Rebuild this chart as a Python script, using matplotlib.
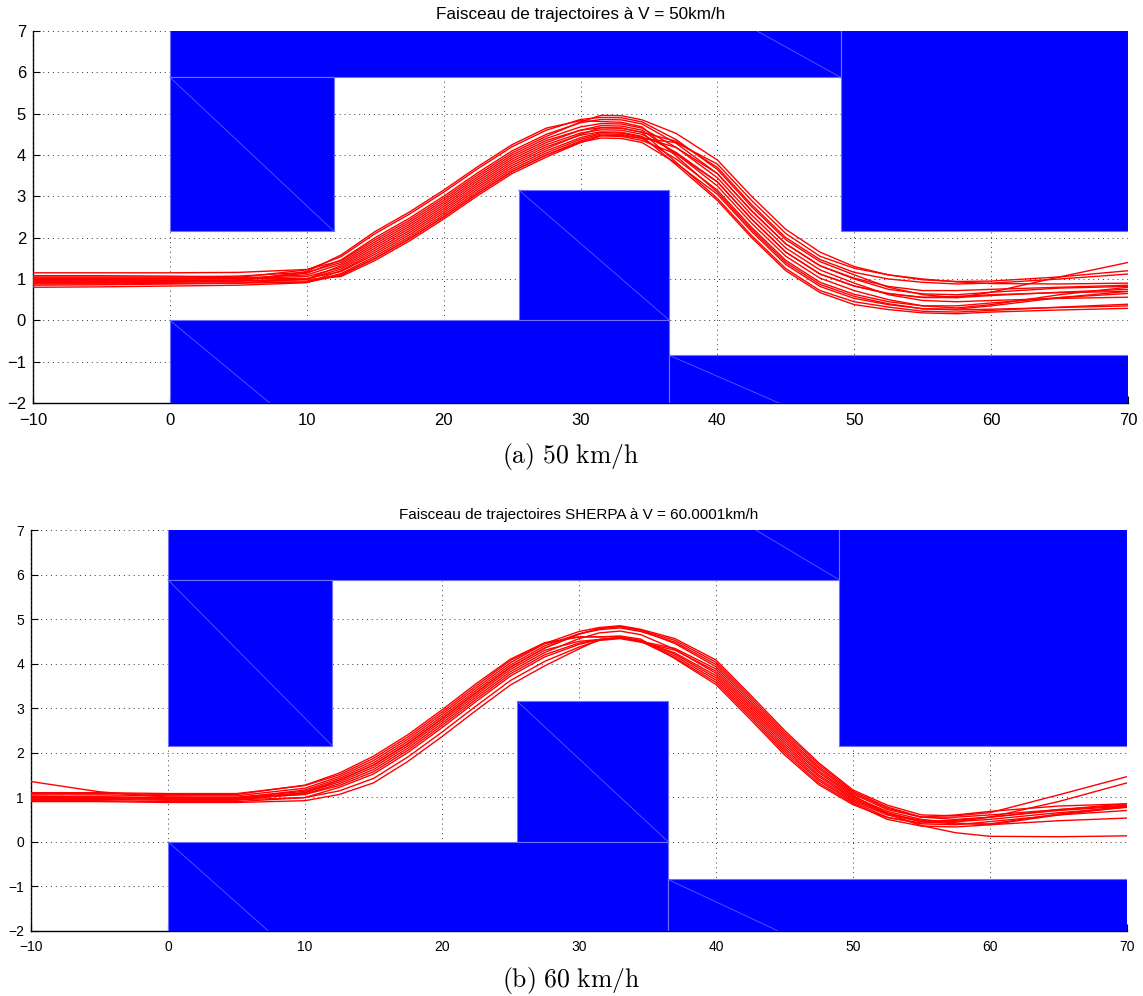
import matplotlib
matplotlib.use("Agg")
import matplotlib.pyplot as plt
from matplotlib.patches import Rectangle

plt.rcParams['font.family'] = ['Liberation Sans', 'DejaVu Sans']
plt.rcParams['mathtext.fontset'] = 'cm'

# ---------------- data ----------------
X = [-10, -5, 0, 5, 10, 12.5, 15, 17.5, 20, 22.5, 25, 27.5, 30, 31.5, 33, 34.5,
     37, 40, 42.5, 45, 47.5, 50, 52.5, 55, 57.5, 60, 65, 70]

traj_50 = [
    [1.15, 1.15, 1.15, 1.16, 1.23, 1.44, 1.95, 2.42, 2.95, 3.52, 4.05, 4.45, 4.8, 4.96, 4.95, 4.85, 4.52, 3.88, 3.0, 2.2, 1.65, 1.3, 1.1, 0.98, 0.94, 0.95, 1.05, 1.2],
    [1.02, 1.02, 1.02, 1.04, 1.22, 1.54, 2.1, 2.57, 3.1, 3.67, 4.2, 4.6, 4.86, 4.91, 4.9, 4.8, 4.37, 3.65, 2.75, 1.95, 1.42, 1.1, 0.8, 0.62, 0.55, 0.68, 1.05, 1.4],
    [0.95, 0.95, 0.96, 0.98, 1.14, 1.46, 2.0, 2.47, 3.0, 3.57, 4.1, 4.5, 4.78, 4.86, 4.85, 4.75, 4.28, 3.55, 2.65, 1.85, 1.32, 1.0, 0.75, 0.64, 0.62, 0.68, 0.78, 0.82],
    [0.9, 0.9, 0.92, 0.95, 1.18, 1.58, 2.15, 2.62, 3.15, 3.72, 4.25, 4.65, 4.83, 4.81, 4.79, 4.68, 3.97, 3.1, 2.2, 1.4, 0.87, 0.58, 0.4, 0.28, 0.27, 0.35, 0.55, 0.7],
    [1.05, 1.05, 1.05, 1.07, 1.16, 1.4, 1.9, 2.37, 2.9, 3.47, 4.0, 4.4, 4.68, 4.76, 4.75, 4.65, 4.18, 3.45, 2.55, 1.75, 1.22, 0.9, 0.62, 0.48, 0.45, 0.48, 0.53, 0.56],
    [0.85, 0.86, 0.88, 0.9, 1.0, 1.32, 1.8, 2.27, 2.8, 3.37, 3.9, 4.3, 4.6, 4.71, 4.7, 4.6, 4.03, 3.25, 2.35, 1.55, 1.02, 0.72, 0.5, 0.35, 0.3, 0.38, 0.62, 0.8],
    [0.8, 0.81, 0.83, 0.85, 0.91, 1.2, 1.65, 2.12, 2.65, 3.22, 3.75, 4.15, 4.5, 4.66, 4.65, 4.55, 3.82, 2.95, 2.05, 1.25, 0.72, 0.45, 0.32, 0.22, 0.2, 0.24, 0.32, 0.39],
    [1.0, 1.0, 1.0, 1.02, 1.1, 1.36, 1.85, 2.32, 2.85, 3.42, 3.95, 4.35, 4.6, 4.66, 4.65, 4.55, 4.33, 3.7, 2.8, 2.0, 1.47, 1.16, 1.0, 0.92, 0.88, 0.9, 1.0, 1.12],
    [0.98, 0.99, 1.0, 1.01, 1.06, 1.28, 1.75, 2.22, 2.75, 3.32, 3.85, 4.25, 4.53, 4.61, 4.6, 4.5, 4.06, 3.35, 2.45, 1.65, 1.12, 0.83, 0.65, 0.55, 0.55, 0.6, 0.68, 0.75],
    [0.93, 0.93, 0.94, 0.96, 1.0, 1.24, 1.7, 2.17, 2.7, 3.27, 3.8, 4.2, 4.48, 4.56, 4.55, 4.45, 3.76, 2.9, 2.0, 1.2, 0.67, 0.38, 0.26, 0.18, 0.16, 0.2, 0.25, 0.29],
    [1.02, 1.02, 1.02, 1.02, 1.01, 1.18, 1.6, 2.07, 2.6, 3.17, 3.7, 4.1, 4.42, 4.54, 4.53, 4.43, 4.18, 3.55, 2.65, 1.85, 1.32, 1.02, 0.82, 0.72, 0.72, 0.75, 0.8, 0.85],
    [0.88, 0.88, 0.89, 0.9, 0.92, 1.13, 1.55, 2.02, 2.55, 3.12, 3.65, 4.05, 4.38, 4.51, 4.5, 4.4, 3.9, 3.15, 2.25, 1.45, 0.92, 0.63, 0.45, 0.35, 0.35, 0.42, 0.55, 0.65],
    [0.97, 0.97, 0.97, 0.97, 0.95, 1.1, 1.5, 1.97, 2.5, 3.07, 3.6, 4.0, 4.34, 4.48, 4.47, 4.4, 4.3, 3.78, 2.9, 2.1, 1.55, 1.26, 1.1, 1.0, 0.93, 0.89, 0.88, 0.9],
    [1.08, 1.08, 1.07, 1.05, 0.99, 1.06, 1.45, 1.92, 2.45, 3.02, 3.55, 3.95, 4.3, 4.46, 4.45, 4.35, 4.02, 3.35, 2.45, 1.65, 1.12, 0.83, 0.64, 0.56, 0.58, 0.62, 0.67, 0.7],
    [0.92, 0.92, 0.93, 0.93, 0.92, 1.09, 1.5, 1.97, 2.5, 3.07, 3.6, 4.0, 4.31, 4.41, 4.4, 4.3, 3.8, 3.05, 2.15, 1.35, 0.82, 0.53, 0.38, 0.28, 0.25, 0.27, 0.31, 0.35],
]

traj_60 = [
    [1.05, 1.05, 1.03, 1.03, 1.2, 1.46, 1.82, 2.3, 2.86, 3.45, 4.02, 4.45, 4.72, 4.81, 4.85, 4.77, 4.56, 4.08, 3.3, 2.5, 1.77, 1.16, 0.82, 0.6, 0.58, 0.65, 1.05, 1.46],
    [0.95, 0.95, 0.93, 0.93, 1.1, 1.38, 1.72, 2.2, 2.76, 3.35, 3.92, 4.35, 4.66, 4.79, 4.83, 4.75, 4.52, 4.03, 3.25, 2.45, 1.73, 1.13, 0.78, 0.55, 0.5, 0.55, 0.9, 1.32],
    [1.0, 1.0, 0.98, 0.98, 1.16, 1.42, 1.77, 2.25, 2.81, 3.4, 3.97, 4.4, 4.67, 4.76, 4.8, 4.72, 4.48, 3.98, 3.2, 2.4, 1.68, 1.1, 0.75, 0.55, 0.6, 0.68, 0.8, 0.85],
    [1.08, 1.08, 1.06, 1.06, 1.27, 1.54, 1.92, 2.4, 2.96, 3.55, 4.1, 4.47, 4.6, 4.6, 4.6, 4.52, 4.21, 3.68, 2.9, 2.1, 1.41, 0.92, 0.6, 0.45, 0.48, 0.55, 0.7, 0.8],
    [1.0, 1.0, 0.98, 0.98, 1.1, 1.34, 1.67, 2.15, 2.71, 3.3, 3.87, 4.3, 4.5, 4.54, 4.58, 4.5, 4.24, 3.73, 2.95, 2.15, 1.46, 0.95, 0.62, 0.48, 0.45, 0.5, 0.65, 0.77],
    [0.92, 0.92, 0.9, 0.9, 0.99, 1.22, 1.52, 2.0, 2.56, 3.15, 3.72, 4.15, 4.43, 4.54, 4.58, 4.5, 4.17, 3.63, 2.85, 2.05, 1.37, 0.89, 0.55, 0.4, 0.38, 0.45, 0.6, 0.7],
    [1.35, 1.12, 1.0, 0.97, 1.06, 1.26, 1.57, 2.05, 2.61, 3.2, 3.77, 4.2, 4.46, 4.54, 4.58, 4.5, 4.13, 3.58, 2.8, 2.0, 1.32, 0.86, 0.5, 0.35, 0.33, 0.38, 0.47, 0.53],
    [0.9, 0.9, 0.88, 0.88, 0.92, 1.06, 1.32, 1.8, 2.36, 2.95, 3.52, 3.95, 4.33, 4.54, 4.58, 4.5, 4.34, 3.88, 3.1, 2.3, 1.59, 1.04, 0.62, 0.36, 0.2, 0.12, 0.11, 0.13],
    [1.1, 1.1, 1.08, 1.08, 1.26, 1.5, 1.87, 2.35, 2.91, 3.5, 4.07, 4.45, 4.6, 4.6, 4.62, 4.55, 4.11, 3.53, 2.75, 1.95, 1.28, 0.83, 0.54, 0.42, 0.45, 0.55, 0.72, 0.85],
    [0.97, 0.97, 0.95, 0.95, 1.07, 1.3, 1.62, 2.1, 2.66, 3.25, 3.82, 4.25, 4.56, 4.69, 4.73, 4.65, 4.32, 3.78, 3.0, 2.2, 1.5, 0.98, 0.65, 0.45, 0.4, 0.4, 0.62, 0.8],
    [1.02, 1.0, 0.96, 0.94, 0.99, 1.14, 1.42, 1.9, 2.46, 3.05, 3.62, 4.05, 4.37, 4.52, 4.56, 4.48, 4.3, 3.83, 3.05, 2.25, 1.55, 1.01, 0.68, 0.5, 0.42, 0.38, 0.6, 0.78],
    [0.98, 1.0, 1.0, 1.0, 1.13, 1.38, 1.72, 2.2, 2.76, 3.35, 3.92, 4.35, 4.66, 4.79, 4.83, 4.75, 4.45, 3.93, 3.15, 2.35, 1.64, 1.07, 0.72, 0.55, 0.55, 0.6, 0.72, 0.82],
]

# obstacles (rectangles): x0, x1, y0, y1
obs_x0 = [0, 49, 0, 25.5, 0, 36.5]
obs_x1 = [49, 70, 12, 36.5, 36.5, 70]
obs_y0 = [5.88, 2.15, 2.15, 0, -2.6, -2.6]
obs_y1 = [7.6, 7.6, 5.88, 3.15, 0, -0.85]

# triangulation edges seen inside the patches
diag_x0 = [0, 25.5, 0, 36.5, 49]
diag_y0 = [5.88, 3.15, 0, -0.85, 5.88]
diag_x1 = [12, 36.5, 7.3, 44.5, 42.9]
diag_y1 = [2.15, 0, -2, -2, 7]

titles = ["Faisceau de trajectoires à V = 50km/h",
          "Faisceau de trajectoires SHERPA à V = 60.0001km/h"]
captions = [r"$\mathrm{(a)\ 50\ km/h}$", r"$\mathrm{(b)\ 60\ km/h}$"]
xticks = [-10, 0, 10, 20, 30, 40, 50, 60, 70]
yticks = [-2, -1, 0, 1, 2, 3, 4, 5, 6, 7]

# ---------------- figure ----------------
fig = plt.figure(figsize=(11.43, 9.96), dpi=100)
ax_pos = [[33/1143, 1-403/996, 1095/1143, 372/996],
          [31/1143, 1-930.7/996, 1096/1143, 400.7/996]]
tick_fs = [12, 10]
title_fs = [12.3, 11]
title_y = [1-14/996, 1-515/996]
cap_y = [1-457/996, 1-980/996]

for k, trajs in enumerate([traj_50, traj_60]):
    ax = fig.add_axes(ax_pos[k])
    ax.set_xlim(-10, 70)
    ax.set_ylim(-2, 7)
    ax.set_xticks(xticks)
    ax.set_yticks(yticks)
    ax.tick_params(direction='in', length=5, width=0.8, labelsize=tick_fs[k],
                   colors='black')
    ax.tick_params(axis='x', pad=7)
    ax.tick_params(axis='y', pad=5)
    ax.grid(True, linestyle=(0, (1, 4)), color='#333333', linewidth=0.7, zorder=0)
    ax.set_axisbelow(True)
    for s in ['top', 'right']:
        ax.spines[s].set_visible(False)
    for s in ['left', 'bottom']:
        ax.spines[s].set_linewidth(1.0)
        ax.spines[s].set_zorder(0.5)

    for i in range(len(obs_x0)):
        ax.add_patch(Rectangle((obs_x0[i], obs_y0[i]), obs_x1[i]-obs_x0[i],
                               obs_y1[i]-obs_y0[i], facecolor='#0000ff',
                               edgecolor='#6e6eff', linewidth=0.8, zorder=1))
    for i in range(len(diag_x0)):
        ax.plot([diag_x0[i], diag_x1[i]], [diag_y0[i], diag_y1[i]],
                color='#5a5aff', linewidth=0.6, zorder=1.5)

    for ys in trajs:
        ax.plot(X, ys, color='#ff0000', linewidth=1.0, zorder=3)

    fig.text(ax_pos[k][0] + ax_pos[k][2]/2, title_y[k], titles[k],
             ha='center', va='center', fontsize=title_fs[k])
    fig.text(0.4996, cap_y[k], captions[k], ha='center', va='center', fontsize=18.5)

fig.savefig("out.png", dpi=100)
